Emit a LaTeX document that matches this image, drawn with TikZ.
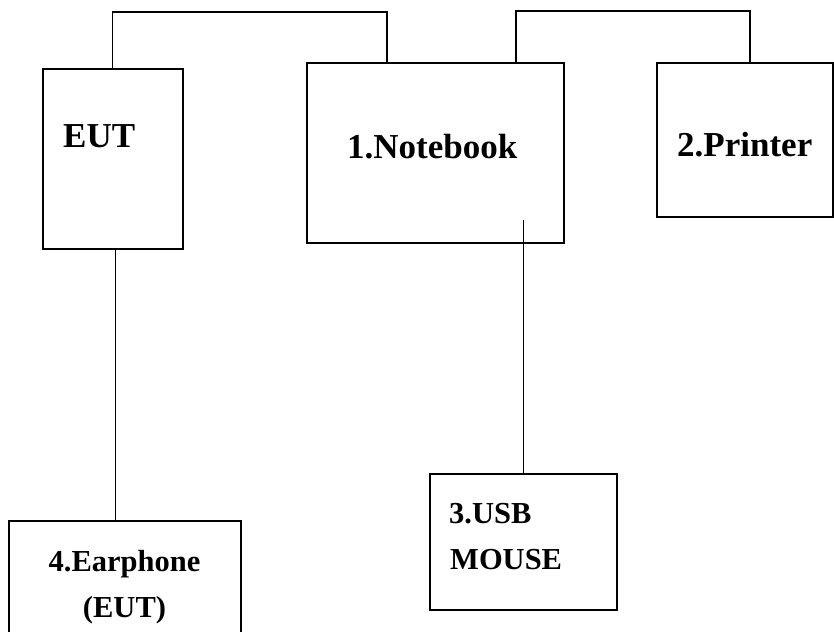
\documentclass[tikz,border=0pt]{standalone}
\usepackage{fontspec}
\setmainfont{Liberation Serif}
\begin{document}
\begin{tikzpicture}[x=1pt,y=-1pt,
  box/.style={draw, line width=1.6pt, rectangle, inner sep=0pt, anchor=north west},
  wire/.style={line width=1.3pt},
  thinwire/.style={line width=1pt},
  lbl/.style={font=\bfseries\fontsize{35}{42}\selectfont, anchor=base west, inner sep=0pt},
  lbls/.style={font=\bfseries\fontsize{30.5}{36}\selectfont, anchor=base west, inner sep=0pt}]
\useasboundingbox (0,0) rectangle (834,631);
\clip (0,0) rectangle (834,631);
% boxes
\node[box, minimum width=140pt, minimum height=180pt] (eut) at (42,68) {};
\node[box, minimum width=257pt, minimum height=180pt] (nb) at (306,62) {};
\node[box, minimum width=176pt, minimum height=154pt] (pr) at (656,62) {};
\node[box, minimum width=187pt, minimum height=136pt] (ms) at (429,473) {};
\node[box, minimum width=232pt, minimum height=150pt] (ear) at (8,520) {};
% labels
\node[lbl] (t0) at (63,148) {EUT};
\node[lbl] (t1) at (347,158) {1.Notebook};
\node[lbl] (t2) at (677,157) {2.Printer};
\node[lbls] (t3a) at (449,523) {3.USB};
\node[lbls] (t3b) at (450,569) {MOUSE};
\node[lbls, anchor=base] (t4a) at (124.5,571) {4.Earphone};
\node[lbls, anchor=base] (t4b) at (124.5,617) {(EUT)};
% connectors
\draw[wire] (eut.north) -- ++(0,-56) -| ([xshift=81pt]nb.north west);
\draw[wire] ([xshift=210pt]nb.north west) -- ++(0,-51) -| ([xshift=94pt]pr.north west);
\coordinate (mtop) at (523,220);
\draw[thinwire] (mtop) -- (mtop |- ms.north);
\draw[wire] ([xshift=3pt]eut.south) -- ([xshift=3pt]eut.south |- ear.north);
\end{tikzpicture}
\end{document}
